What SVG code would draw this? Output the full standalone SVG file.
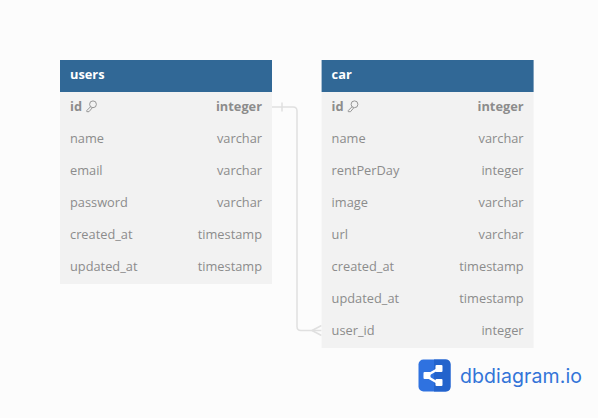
<svg xmlns="http://www.w3.org/2000/svg" width="598" height="418" viewBox="0 0 598 418">
<style>
text{font-family:"Open Sans","Noto Sans",sans-serif;font-size:12.800px;fill:#8c8c8c}
.h{font-weight:700;fill:#fff}
.b{font-weight:700}
.r{text-anchor:end}
.body{fill:#f2f2f2}
.head{fill:#316896}
.c{fill:none;stroke:#e0e0e0;stroke-width:1.500}
.k{fill:none;stroke:#8c8c8c;stroke-width:.9}
</style>
<defs>
<g id="key"><circle cx="7" cy="3.800" r="3.400" class="k"/><path d="M4.600 6.200 L.8 10 L.8 11.200 L3 11.200 L6.200 7.400" class="k"/></g>
</defs>
<rect width="598" height="418" fill="#fcfcfc"/>
<g id="connectors">
<path class="c" d="M272 107H293Q297 107 297 111V326.500Q297 330.500 301 330.500H321.500"/>
<path class="c" d="M282 102.500V111.500M312 330.500L321.500 325.500M312 330.500L321.500 335.500"/>
</g>
<g id="users">
<rect class="body" x="60" y="92" width="212" height="192"/>
<rect class="head" x="60" y="60" width="212" height="32"/>
<text class="h" x="70" y="79">users</text>
<text class="b" x="70" y="111">id</text><use href="#key" x="86" y="100.500"/><text class="b r" x="262" y="111">integer</text>
<text x="70" y="143">name</text><text class="r" x="262" y="143">varchar</text>
<text x="70" y="175">email</text><text class="r" x="262" y="175">varchar</text>
<text x="70" y="207">password</text><text class="r" x="262" y="207">varchar</text>
<text x="70" y="239">created_at</text><text class="r" x="262" y="239">timestamp</text>
<text x="70" y="271">updated_at</text><text class="r" x="262" y="271">timestamp</text>
</g>
<g id="car">
<rect class="body" x="321.600" y="92" width="212" height="256"/>
<rect class="head" x="321.600" y="60" width="212" height="32"/>
<text class="h" x="331.600" y="79">car</text>
<text class="b" x="331.600" y="111">id</text><use href="#key" x="347.500" y="100.500"/><text class="b r" x="523.600" y="111">integer</text>
<text x="331.600" y="143">name</text><text class="r" x="523.600" y="143">varchar</text>
<text x="331.600" y="175">rentPerDay</text><text class="r" x="523.600" y="175">integer</text>
<text x="331.600" y="207">image</text><text class="r" x="523.600" y="207">varchar</text>
<text x="331.600" y="239">url</text><text class="r" x="523.600" y="239">varchar</text>
<text x="331.600" y="271">created_at</text><text class="r" x="523.600" y="271">timestamp</text>
<text x="331.600" y="303">updated_at</text><text class="r" x="523.600" y="303">timestamp</text>
<text x="331.600" y="335">user_id</text><text class="r" x="523.600" y="335">integer</text>
</g>
<g id="logo">
<rect x="418.500" y="359.500" width="32" height="32" rx="5" fill="#2f72e0"/>
<path d="M434 359.500H445.500Q450.500 359.500 450.500 364.500V386.500Q450.500 391.500 445.500 391.500H434Z" fill="#2363cc"/>
<path d="M438 369L426 376L438 383" fill="none" stroke="#fff" stroke-width="2.500"/>
<rect x="423.500" y="372" width="7" height="7" rx="1" fill="#fff"/>
<rect x="435.500" y="365" width="7" height="7" rx="1" fill="#fff"/>
<rect x="435.500" y="379" width="7" height="7" rx="1" fill="#fff"/>
<text x="460" y="382.500" style="font-family:Inter,'Open Sans',sans-serif;font-size:19.500px;fill:#3374d8;letter-spacing:.1px">dbdiagram.io</text>
</g>
</svg>
